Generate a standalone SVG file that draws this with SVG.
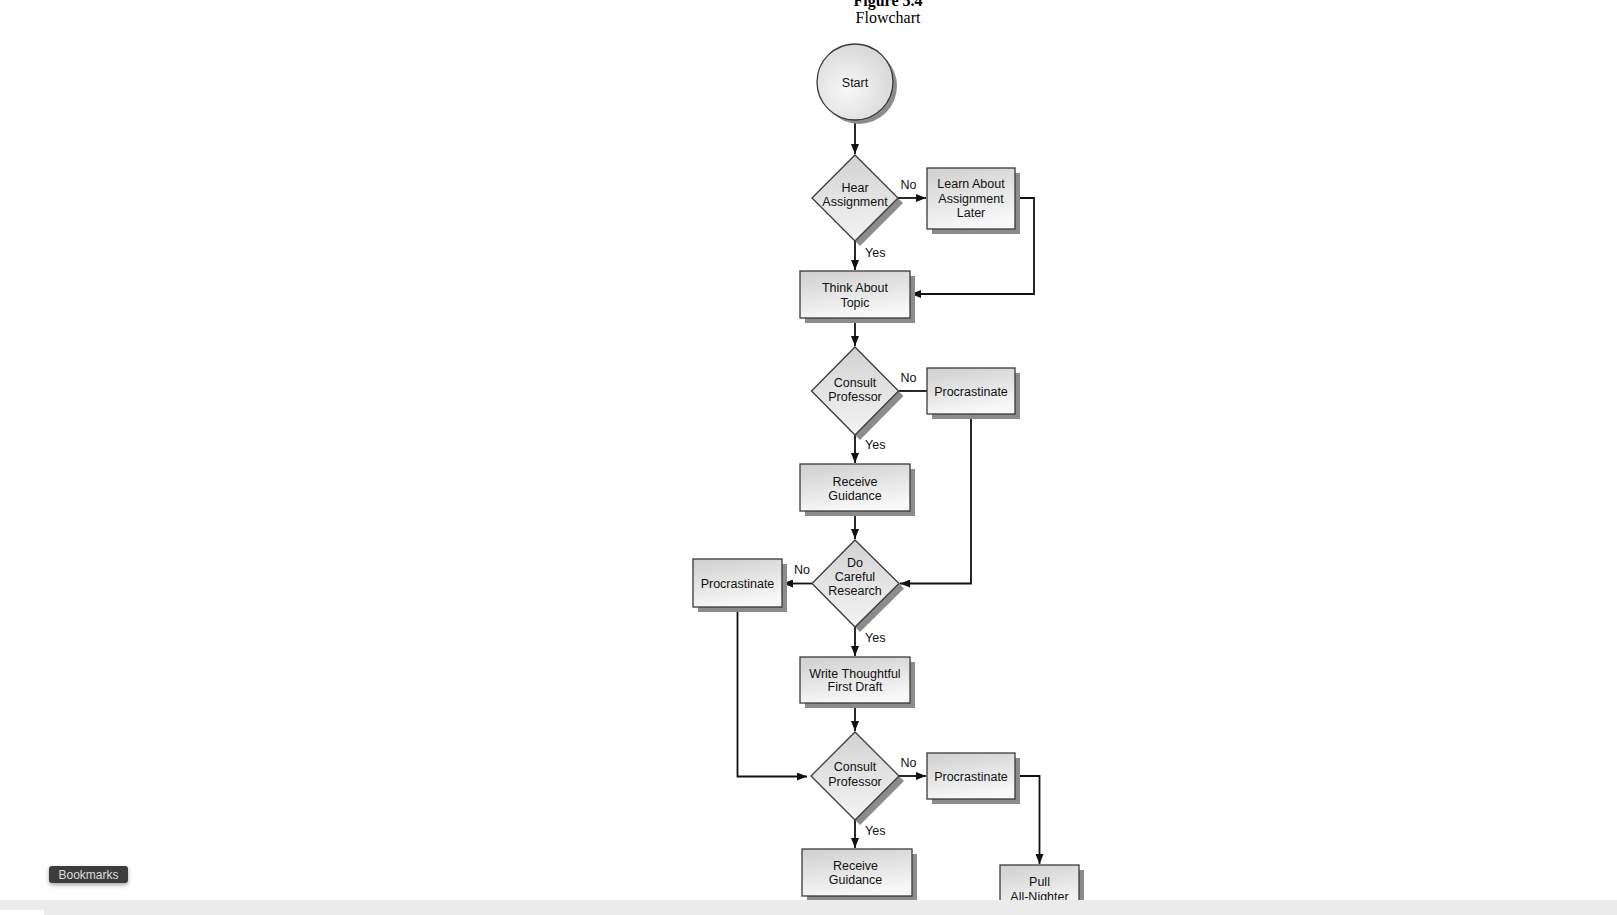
<svg xmlns="http://www.w3.org/2000/svg" width="1617" height="915" viewBox="0 0 1617 915">
<defs>
<linearGradient id="gBox" x1="0" y1="0" x2="0.3" y2="1">
<stop offset="0" stop-color="#cfcfcf"/>
<stop offset="1" stop-color="#f7f7f7"/>
</linearGradient>
<linearGradient id="gDia" x1="0" y1="0" x2="0" y2="1">
<stop offset="0" stop-color="#d2d2d2"/>
<stop offset="1" stop-color="#f4f4f4"/>
</linearGradient>
<radialGradient id="gCirc" cx="0.4" cy="0.6" r="0.7">
<stop offset="0" stop-color="#f8f8f8"/>
<stop offset="1" stop-color="#d4d4d4"/>
</radialGradient>
<marker id="arr" viewBox="0 0 10 8" refX="10" refY="4" markerWidth="10" markerHeight="8" markerUnits="userSpaceOnUse" orient="auto">
<path d="M0,0 L10,4 L0,8 Z" fill="#111"/>
</marker>
<filter id="btnShadow" x="-20%" y="-40%" width="140%" height="200%">
<feDropShadow dx="0" dy="2" stdDeviation="2" flood-color="#000" flood-opacity="0.35"/>
</filter>
</defs>
<style>
.box{fill:url(#gBox);stroke:#3a3a3a;stroke-width:1.3}
.dia{fill:url(#gDia);stroke:#3a3a3a;stroke-width:1.3}
.shd{fill:#8c8c8c}
.lbl{font-family:"Liberation Sans",Arial,sans-serif;font-size:12.5px;fill:#111;text-anchor:middle}
.yn{font-family:"Liberation Sans",Arial,sans-serif;font-size:12.5px;fill:#111}
.con{fill:none;stroke:#111;stroke-width:1.8}
.conA{fill:none;stroke:#111;stroke-width:1.8;marker-end:url(#arr)}
</style>
<rect x="0" y="0" width="1617" height="915" fill="#ffffff"/>

<g id="title">
<text x="888" y="6" font-family="'Liberation Serif','Times New Roman',serif" font-size="16" font-weight="bold" text-anchor="middle" fill="#000">Figure 5.4</text>
<text x="888" y="23" font-family="'Liberation Serif','Times New Roman',serif" font-size="16" text-anchor="middle" fill="#000">Flowchart</text>
</g>

<g id="connectors">
<line class="conA" x1="855" y1="120" x2="855" y2="154"/>
<line class="conA" x1="898" y1="198" x2="926" y2="198"/>
<polyline class="conA" points="1015,198 1034,198 1034,294 911,294"/>
<line class="conA" x1="855" y1="241" x2="855" y2="270"/>
<line class="conA" x1="855" y1="318" x2="855" y2="346"/>
<line class="con" x1="898.5" y1="391" x2="927" y2="391"/>
<polyline class="conA" points="971,414 971,583.5 900,583.5"/>
<line class="conA" x1="855" y1="435" x2="855" y2="463"/>
<line class="conA" x1="855" y1="511" x2="855" y2="539"/>
<line class="conA" x1="812" y1="583.5" x2="783" y2="583.5"/>
<polyline class="conA" points="737.5,607 737.5,776.5 807,776.5"/>
<line class="conA" x1="855" y1="627" x2="855" y2="656"/>
<line class="conA" x1="855" y1="703" x2="855" y2="731"/>
<line class="conA" x1="899" y1="776" x2="926" y2="776"/>
<polyline class="conA" points="1015,776 1039.5,776 1039.5,864"/>
<line class="conA" x1="855" y1="820" x2="855" y2="848"/>
<line class="con" x1="855" y1="896" x2="855" y2="905"/>
<text class="yn" x="900.5" y="189">No</text>
<text class="yn" x="865" y="257">Yes</text>
<text class="yn" x="900.5" y="382">No</text>
<text class="yn" x="865" y="449">Yes</text>
<text class="yn" x="794" y="574">No</text>
<text class="yn" x="865" y="642">Yes</text>
<text class="yn" x="900.5" y="767">No</text>
<text class="yn" x="865" y="835">Yes</text>
</g>

<g id="start">
<circle cx="859" cy="86" r="38" class="shd"/>
<circle cx="855" cy="82" r="38" fill="url(#gCirc)" stroke="#3a3a3a" stroke-width="1.3"/>
<text class="lbl" x="855" y="86.5">Start</text>
</g>

<g id="hear-assignment">
<polygon class="shd" points="898,198 903,203 860,246 855,241"/>
<polygon class="dia" points="855,155 898,198 855,241 812,198"/>
<text class="lbl" x="855" y="191.5">Hear</text>
<text class="lbl" x="855" y="205.5">Assignment</text>
</g>

<g id="learn-later">
<rect class="shd" x="932" y="173" width="88" height="61"/>
<rect class="box" x="927" y="168" width="88" height="61"/>
<text class="lbl" x="971" y="188">Learn About</text>
<text class="lbl" x="971" y="202.5">Assignment</text>
<text class="lbl" x="971" y="217">Later</text>
</g>

<g id="think-topic">
<rect class="shd" x="805" y="276" width="110" height="47"/>
<rect class="box" x="800" y="271" width="110" height="47"/>
<text class="lbl" x="855" y="292">Think About</text>
<text class="lbl" x="855" y="306.5">Topic</text>
</g>

<g id="consult-1">
<polygon class="shd" points="898.5,391 903.5,396 860,440 855,435"/>
<polygon class="dia" points="855,347 898.5,391 855,435 811.5,391"/>
<text class="lbl" x="855" y="386.5">Consult</text>
<text class="lbl" x="855" y="400.5">Professor</text>
</g>

<g id="procrastinate-1">
<rect class="shd" x="932" y="373" width="88" height="46"/>
<rect class="box" x="927" y="368" width="88" height="46"/>
<text class="lbl" x="971" y="395.5">Procrastinate</text>
</g>

<g id="receive-1">
<rect class="shd" x="805" y="469" width="110" height="47"/>
<rect class="box" x="800" y="464" width="110" height="47"/>
<text class="lbl" x="855" y="485.5">Receive</text>
<text class="lbl" x="855" y="499.5">Guidance</text>
</g>

<g id="careful-research">
<polygon class="shd" points="899,583.5 904,588.5 860,632 855,627"/>
<polygon class="dia" points="855,540 899,583.5 855,627 812,583.5"/>
<text class="lbl" x="855" y="566.5">Do</text>
<text class="lbl" x="855" y="580.5">Careful</text>
<text class="lbl" x="855" y="594.5">Research</text>
</g>

<g id="procrastinate-2">
<rect class="shd" x="698" y="564" width="89" height="48"/>
<rect class="box" x="693" y="559" width="89" height="48"/>
<text class="lbl" x="737.5" y="587.5">Procrastinate</text>
</g>

<g id="write-draft">
<rect class="shd" x="805" y="662" width="110" height="46"/>
<rect class="box" x="800" y="657" width="110" height="46"/>
<text class="lbl" x="855" y="677.5">Write Thoughtful</text>
<text class="lbl" x="855" y="691">First Draft</text>
</g>

<g id="consult-2">
<polygon class="shd" points="899,776 904,781 860,825 855,820"/>
<polygon class="dia" points="855,732 899,776 855,820 811,776"/>
<text class="lbl" x="855" y="771">Consult</text>
<text class="lbl" x="855" y="785.5">Professor</text>
</g>

<g id="procrastinate-3">
<rect class="shd" x="932" y="758" width="88" height="46"/>
<rect class="box" x="927" y="753" width="88" height="46"/>
<text class="lbl" x="971" y="781">Procrastinate</text>
</g>

<g id="receive-2">
<rect class="shd" x="807" y="854" width="110" height="47"/>
<rect class="box" x="802" y="849" width="110" height="47"/>
<text class="lbl" x="855.5" y="869.5">Receive</text>
<text class="lbl" x="855.5" y="883.5">Guidance</text>
</g>

<g id="pull-all-nighter">
<rect class="shd" x="1005" y="870" width="79" height="47"/>
<rect class="box" x="1000" y="865" width="79" height="47"/>
<text class="lbl" x="1039.5" y="886">Pull</text>
<text class="lbl" x="1039.5" y="900.5">All-Nighter</text>
</g>

<g id="viewer-ui">
<rect x="0" y="900" width="1617" height="15" fill="#ebebeb"/>
<rect x="0" y="910" width="44" height="5" fill="#ffffff"/>
<rect x="49" y="866" width="79" height="17" rx="3" fill="#3c3c3c" filter="url(#btnShadow)"/>
<text x="88.5" y="879" font-family="'Liberation Sans',Arial,sans-serif" font-size="12" fill="#dddddd" text-anchor="middle">Bookmarks</text>
</g>
</svg>
